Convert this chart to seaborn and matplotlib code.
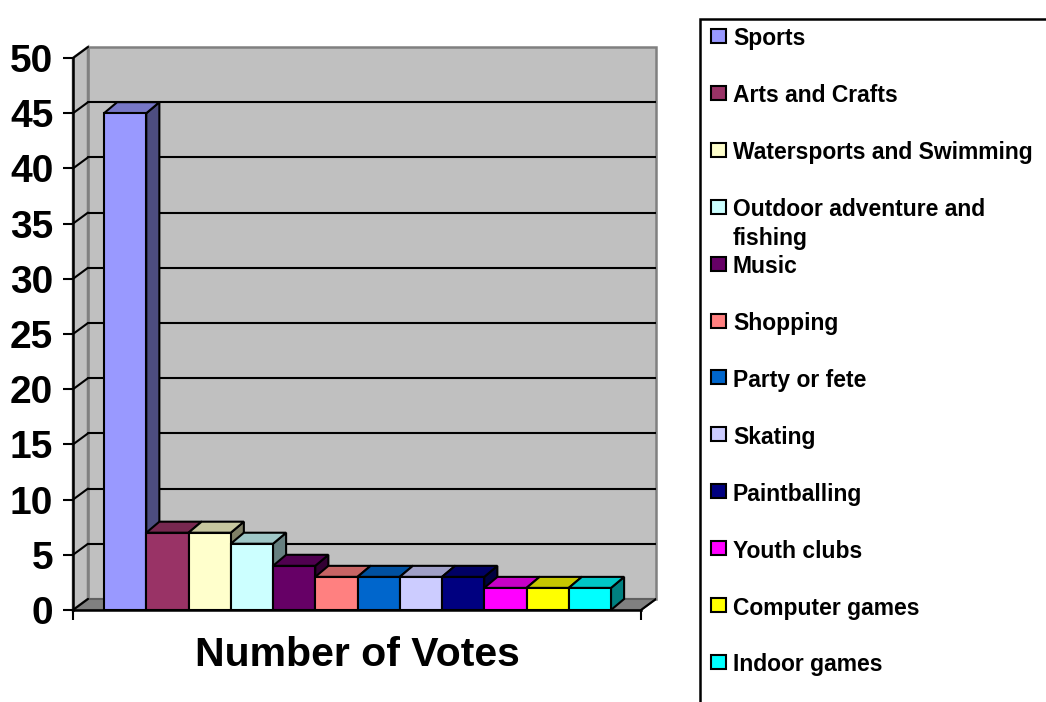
import numpy as np
import matplotlib
matplotlib.use("Agg")
import matplotlib.pyplot as plt
from matplotlib.patches import Polygon, Rectangle
from matplotlib.colors import to_rgb
import seaborn as sns

categories = ['Sports', 'Arts and Crafts', 'Watersports and Swimming',
              'Outdoor adventure and\nfishing', 'Music', 'Shopping', 'Party or fete',
              'Skating', 'Paintballing', 'Youth clubs', 'Computer games', 'Indoor games']
votes = [45, 7, 7, 6, 4, 3, 3, 3, 3, 2, 2, 2]
colors = ['#9999FF', '#993366', '#FFFFCC', '#CCFFFF', '#660066', '#FF8080',
          '#0066CC', '#CCCCFF', '#000080', '#FF00FF', '#FFFF00', '#00FFFF']
y_ticks = list(range(0, 55, 5))
x_title = 'Number of Votes'

sns.set_style('white')
plt.rcParams['font.family'] = ['Liberation Sans', 'DejaVu Sans']
plt.rcParams['font.weight'] = 'bold'
for k in ['text.color', 'axes.labelcolor', 'xtick.color', 'ytick.color']:
    plt.rcParams[k] = 'black'

W, H = 1046, 702
fig = plt.figure(figsize=(W / 100, H / 100), dpi=100)

# plot extent in data units (front axis) and 3D offsets
x0, x1 = -1.234, 12.21
wdx, wdy = 0.355, 1.0      # wall depth
bdx, bdy = 0.31, 1.0       # bar depth
ax = fig.add_axes([73 / W, (H - 610) / H, 583 / W, 563 / H])

sns.barplot(x=categories, y=votes, hue=categories, palette=colors, width=1.0,
            saturation=1, edgecolor='black', linewidth=1.5, legend=False, ax=ax)
bars = list(ax.patches)

ax.set_xlim(x0, x1 + wdx)
ax.set_ylim(0, 51)
ax.set_facecolor('white')

# walls and floor
ax.add_patch(Rectangle((x0 + wdx, wdy), x1 - x0, 50, facecolor='#C0C0C0',
                       edgecolor='#808080', lw=1.8, zorder=0.5, clip_on=False))
ax.add_patch(Polygon([(x0, 0), (x0 + wdx, wdy), (x0 + wdx, 50 + wdy), (x0, 50)],
                     closed=True, facecolor='#C0C0C0', edgecolor='#808080', lw=1.8,
                     zorder=0.5, clip_on=False))
ax.add_patch(Polygon([(x0, 0), (x1, 0), (x1 + wdx, wdy), (x0 + wdx, wdy)],
                     closed=True, facecolor='#808080', edgecolor='#606060', lw=1.5,
                     zorder=0.7, clip_on=False))
for v in y_ticks[1:-1]:
    ax.plot([x0 + wdx, x1 + wdx], [v + wdy, v + wdy], color='black', lw=1.5, zorder=0.6)
for v in y_ticks:
    ax.plot([x0, x0 + wdx], [v, v + wdy], color='black', lw=1.5, zorder=0.8,
            clip_on=False)
ax.plot([x1, x1 + wdx], [0, wdy], color='black', lw=1.5, zorder=0.8)

# 3D faces on the bars
for i, (p, c) in enumerate(zip(bars, colors)):
    x, w, h = p.get_x(), p.get_width(), p.get_height()
    rgb = np.array(to_rgb(c))
    z = 3 + i * 2
    ax.add_patch(Polygon([(x + w, 0), (x + w + bdx, bdy), (x + w + bdx, h + bdy), (x + w, h)],
                         closed=True, facecolor=rgb * 0.5, edgecolor='black', lw=1.5,
                         zorder=z, clip_on=False))
    ax.add_patch(Polygon([(x, h), (x + w, h), (x + w + bdx, h + bdy), (x + bdx, h + bdy)],
                         closed=True, facecolor=rgb * 0.78, edgecolor='black', lw=1.5,
                         zorder=z, clip_on=False))
    p.set_zorder(z + 1)

# axes
for s in ['top', 'right']:
    ax.spines[s].set_visible(False)
for s in ['left', 'bottom']:
    ax.spines[s].set_color('black')
    ax.spines[s].set_linewidth(1.8)
    ax.spines[s].set_zorder(40)
ax.spines['left'].set_bounds(0, 50)
ax.spines['bottom'].set_bounds(x0, x1)
ax.set_yticks(y_ticks)
ax.set_yticklabels([str(v) for v in y_ticks], fontsize=28, fontweight='bold')
ax.set_xticks([x0, x1])
ax.set_xticklabels(['', ''])
ax.tick_params(axis='both', direction='out', length=7.2, width=1.5, color='black',
               left=True, bottom=True)
ax.tick_params(axis='y', pad=7)
ax.set_xlabel('')
ax.set_ylabel('')
ax.text((x0 + x1) / 2, -0.08, x_title, transform=ax.get_xaxis_transform(),
        ha='center', va='center', fontsize=29.5, fontweight='bold')

# legend box, running past the figure edge as in the original
fig.patches.append(Rectangle((700 / W, -0.1), 1.0, 1 - 19 / H + 0.1,
                             transform=fig.transFigure, facecolor='white',
                             edgecolor='black', lw=1.8, zorder=0))
for i, (lab, c) in enumerate(zip(categories, colors)):
    cy = 35.5 + 56.9 * i
    fig.patches.append(Rectangle((711 / W, 1 - (cy + 7.5) / H), 15 / W, 14 / H,
                                 transform=fig.transFigure, facecolor=c,
                                 edgecolor='black', lw=1.5, zorder=2))
    fig.text(733 / W, 1 - (cy - 8) / H, lab, ha='left', va='top', fontsize=16.5,
             fontweight='bold', linespacing=1.3, zorder=3)

fig.savefig('out.png', dpi=100)
